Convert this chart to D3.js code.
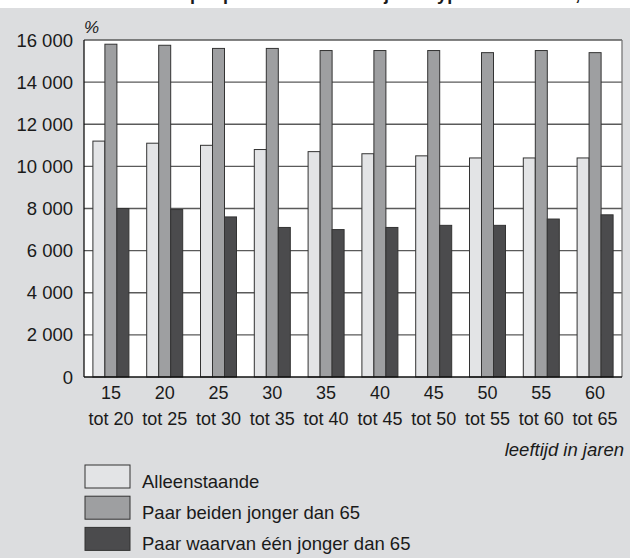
<!DOCTYPE html>
<html>
<head>
<meta charset="utf-8">
<script src="https://cdn.jsdelivr.net/npm/d3@7"></script>
<style>
  html, body { margin: 0; padding: 0; background: #ffffff; }
  svg { display: block; }
  text { font-family: "Liberation Sans", Arial, Helvetica, sans-serif; fill: #1a1a1a; }
</style>
</head>
<body>
<svg id="chart" width="630" height="558"></svg>
<script>
// ---- data ----
const categories = ["15|tot 20", "20|tot 25", "25|tot 30", "30|tot 35", "35|tot 40",
                    "40|tot 45", "45|tot 50", "50|tot 55", "55|tot 60", "60|tot 65"];
const seriesNames = ["Alleenstaande", "Paar beiden jonger dan 65", "Paar waarvan één jonger dan 65"];
const alleenstaande = [11200, 11100, 11000, 10800, 10700, 10600, 10500, 10400, 10400, 10400];
const paarBeiden    = [15800, 15750, 15600, 15600, 15500, 15500, 15500, 15400, 15500, 15400];
const paarEen       = [8000, 7950, 7600, 7100, 7000, 7100, 7200, 7200, 7500, 7700];
const yTicks = [0, 2000, 4000, 6000, 8000, 10000, 12000, 14000, 16000];
const titleText = "Besteedbaar inkomen per persoon naar leeftijd en type huishouden, 1999";
const unitLabel = "%";
const xAxisLabel = "leeftijd in jaren";

const seriesValues = [alleenstaande, paarBeiden, paarEen];
const colors = ["#e3e4e6", "#9e9fa1", "#4b4b4d"];

const svg = d3.select("#chart");
const W = 630, H = 558;
const plot = { left: 84, right: 622, top: 40, bottom: 377 };

// background
svg.append("rect").attr("x", 0).attr("y", 0).attr("width", W).attr("height", H).attr("fill", "#ffffff");
svg.append("text").attr("x", -2).attr("y", 0)
  .style("font-size", "18px").style("font-weight", "bold").text(titleText);
svg.append("rect").attr("x", 0).attr("y", 8).attr("width", W).attr("height", H - 8).attr("fill", "#dcdddf");

const fmt = v => d3.format(",")(v).replace(/,/g, " ");

const x = d3.scaleBand().domain(categories).range([plot.left, plot.right]).padding(0);
const x1 = d3.scaleBand().domain(d3.range(seriesNames.length)).range([0, 36]).padding(0);
const y = d3.scaleLinear().domain([0, 16000]).range([plot.bottom, plot.top]);

// plot area
svg.append("rect").attr("x", plot.left).attr("y", plot.top)
  .attr("width", plot.right - plot.left).attr("height", plot.bottom - plot.top).attr("fill", "#ffffff");

// grid lines
svg.append("g").selectAll("line").data(yTicks.filter(d => d > 0)).join("line")
  .attr("x1", plot.left).attr("x2", plot.right)
  .attr("y1", d => y(d)).attr("y2", d => y(d))
  .attr("stroke", "#5a5a5a").attr("stroke-width", 1.3);

// right border
svg.append("line").attr("x1", plot.right).attr("x2", plot.right)
  .attr("y1", plot.top).attr("y2", plot.bottom).attr("stroke", "#777").attr("stroke-width", 1.3);

// bars
const groups = svg.append("g").selectAll("g").data(categories).join("g")
  .attr("transform", c => `translate(${x(c) + x.bandwidth() / 2 - 18},0)`);
groups.selectAll("rect").data((c, i) => seriesValues.map((s, k) => ({ k, v: s[i] }))).join("rect")
  .attr("x", d => x1(d.k))
  .attr("y", d => y(d.v))
  .attr("width", x1.bandwidth())
  .attr("height", d => plot.bottom - y(d.v))
  .attr("fill", d => colors[d.k])
  .attr("stroke", "#333")
  .attr("stroke-width", 1);

// axes lines
svg.append("line").attr("x1", plot.left).attr("x2", plot.left)
  .attr("y1", plot.top).attr("y2", plot.bottom).attr("stroke", "#111").attr("stroke-width", 1.3);
svg.append("line").attr("x1", plot.left).attr("x2", plot.right)
  .attr("y1", plot.bottom).attr("y2", plot.bottom).attr("stroke", "#111").attr("stroke-width", 1.3);

// y labels
svg.append("g").selectAll("text").data(yTicks).join("text")
  .attr("x", 73).attr("y", d => y(d) + 6.5)
  .attr("text-anchor", "end").style("font-size", "18.5px")
  .text(d => fmt(d));

svg.append("text").attr("x", 84).attr("y", 33).style("font-size", "17px").style("font-style", "italic").text(unitLabel);

// x labels
const xl = svg.append("g").selectAll("text").data(categories).join("text")
  .attr("text-anchor", "middle").style("font-size", "18px");
xl.append("tspan").attr("x", c => x(c) + x.bandwidth() / 2).attr("y", 399).text(c => c.split("|")[0]);
xl.append("tspan").attr("x", c => x(c) + x.bandwidth() / 2).attr("y", 425).text(c => c.split("|")[1]);

svg.append("text").attr("x", 624).attr("y", 456).attr("text-anchor", "end")
  .style("font-size", "18.5px").style("font-style", "italic").text(xAxisLabel);

// legend
const lg = svg.append("g").selectAll("g").data(seriesNames).join("g")
  .attr("transform", (d, i) => `translate(85,${465 + i * 31.2})`);
lg.append("rect").attr("width", 45).attr("height", 23)
  .attr("fill", (d, i) => colors[i]).attr("stroke", "#333").attr("stroke-width", 1);
lg.append("text").attr("x", 57).attr("y", 23).style("font-size", "18.5px").text(d => d);
</script>
</body>
</html>
